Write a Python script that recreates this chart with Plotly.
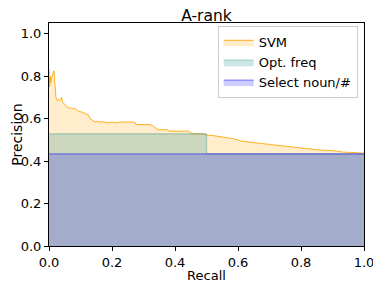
import plotly.graph_objects as go

# SVM precision-recall curve
svm_recall = [0.0, 0.002, 0.004, 0.006, 0.008, 0.010, 0.013, 0.016, 0.018, 0.020, 0.022,
              0.026, 0.030, 0.035, 0.040, 0.043, 0.047, 0.052, 0.056, 0.062, 0.068, 0.072,
              0.078, 0.083, 0.088, 0.093, 0.100, 0.109, 0.115, 0.120, 0.125, 0.130, 0.138,
              0.146, 0.155, 0.165, 0.172, 0.185, 0.20, 0.215, 0.23, 0.24, 0.255, 0.273,
              0.275, 0.32, 0.33, 0.346, 0.378, 0.38, 0.43, 0.44, 0.45, 0.46, 0.49, 0.501,
              0.52, 0.55, 0.586, 0.607, 0.63, 0.66, 0.702, 0.734, 0.766, 0.808, 0.851,
              0.902, 0.934, 0.97, 1.0]
svm_precision = [0.83, 0.75, 0.80, 0.77, 0.79, 0.80, 0.81, 0.825, 0.78, 0.72, 0.70,
                 0.685, 0.69, 0.685, 0.70, 0.68, 0.67, 0.665, 0.655, 0.652, 0.648, 0.650,
                 0.644, 0.649, 0.640, 0.635, 0.633, 0.628, 0.625, 0.620, 0.617, 0.600, 0.592,
                 0.584, 0.588, 0.582, 0.585, 0.580, 0.584, 0.580, 0.585, 0.583, 0.584, 0.582,
                 0.572, 0.572, 0.565, 0.548, 0.547, 0.541, 0.541, 0.542, 0.532, 0.528, 0.528, 0.522,
                 0.520, 0.513, 0.505, 0.495, 0.492, 0.485, 0.478, 0.473, 0.469, 0.461, 0.453,
                 0.449, 0.442, 0.440, 0.437]

# Opt. freq baseline (step: high precision up to recall 0.5, then baseline level)
opt_recall = [0.0, 0.5, 0.5, 1.0]
opt_precision = [0.528, 0.528, 0.434, 0.434]

# Select noun/# baseline
noun_recall = [0.0, 1.0]
noun_precision = [0.434, 0.434]

fig = go.Figure()
fig.add_trace(go.Scatter(
    x=svm_recall, y=svm_precision, mode="lines", name="SVM",
    line=dict(color="rgba(255,165,0,0.85)", width=1),
    fill="tozeroy", fillcolor="rgba(255,165,0,0.2)"))
fig.add_trace(go.Scatter(
    x=opt_recall, y=opt_precision, mode="lines", name="Opt. freq",
    line=dict(color="rgba(0,128,128,0.3)", width=1.2),
    fill="tozeroy", fillcolor="rgba(0,128,128,0.2)"))
fig.add_trace(go.Scatter(
    x=noun_recall, y=noun_precision, mode="lines", name="Select noun/#",
    line=dict(color="rgba(0,0,255,0.4)", width=1.2),
    fill="tozeroy", fillcolor="rgba(0,0,255,0.2)"))

font = dict(family="DejaVu Sans", size=13, color="black")
fig.update_layout(
    width=373, height=278,
    margin=dict(l=41, r=17, t=15, b=40, autoexpand=False),
    paper_bgcolor="white", plot_bgcolor="white",
    font=font,
    title=dict(text="A-rank", xref="paper", x=0.5, xanchor="center",
               yref="container", y=0.992, yanchor="top", pad=dict(t=0, b=0),
               font=dict(family="DejaVu Sans", size=15.5, color="black"), automargin=False),
    showlegend=True,
    legend=dict(x=0.98, xanchor="right", y=0.985, yanchor="top",
                bgcolor="rgba(255,255,255,0.8)", bordercolor="#cccccc", borderwidth=1,
                font=dict(family="DejaVu Sans", size=13, color="black"),
                tracegroupgap=0, itemwidth=30),
    annotations=[dict(text="Precision", xref="paper", yref="paper", x=-0.104, y=0.5,
                      xanchor="center", yanchor="middle", textangle=-90, showarrow=False,
                      font=dict(family="DejaVu Sans", size=14, color="black"))],
)
fig.update_xaxes(range=[0, 1], tickvals=[0, 0.2, 0.4, 0.6, 0.8, 1.0],
                 ticktext=["0.0", "0.2", "0.4", "0.6", "0.8", "1.0"], automargin=False,
                 showgrid=False, zeroline=False, showline=True, linecolor="black",
                 linewidth=1, mirror=True, ticks="outside", ticklen=4, tickcolor="black",
                 title=dict(text="Recall", standoff=2, font=font))
fig.update_yaxes(range=[0, 1.05], tickvals=[0, 0.2, 0.4, 0.6, 0.8, 1.0],
                 ticktext=["0.0", "0.2", "0.4", "0.6", "0.8", "1.0"], automargin=False,
                 showgrid=False, zeroline=False, showline=True, linecolor="black",
                 linewidth=1, mirror=True, ticks="outside", ticklen=4, tickcolor="black")

fig.write_html("out.html")
